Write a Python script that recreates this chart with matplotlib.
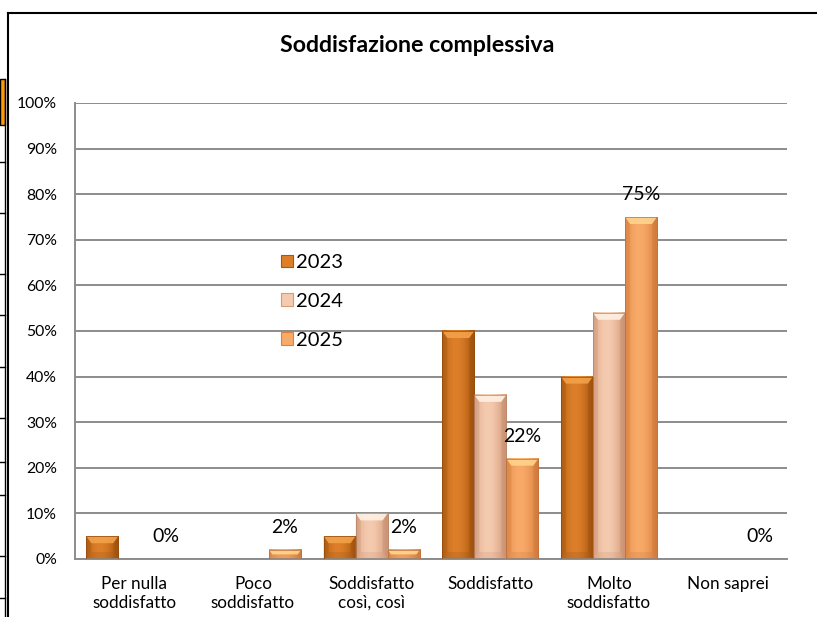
import numpy as np
import matplotlib
matplotlib.use("Agg")
import matplotlib.pyplot as plt
from matplotlib.patches import Polygon, Patch, Rectangle
from matplotlib.lines import Line2D
from matplotlib.colors import to_rgb

plt.rcParams['font.family'] = ['Lato', 'DejaVu Sans']

# --- data ---
categories = ["Per nulla\nsoddisfatto", "Poco\nsoddisfatto", "Soddisfatto\ncosì, così",
              "Soddisfatto", "Molto\nsoddisfatto", "Non saprei"]
years = ["2023", "2024", "2025"]
v2023 = [0.05, 0.0, 0.05, 0.50, 0.40, 0.0]
v2024 = [0.0, 0.0, 0.10, 0.36, 0.54, 0.0]
v2025 = [0.0, 0.02, 0.02, 0.22, 0.75, 0.0]
yticks = [0.0, 0.1, 0.2, 0.3, 0.4, 0.5, 0.6, 0.7, 0.8, 0.9, 1.0]

# colour sets per series: (edge, middle, top bevel, bottom bevel)
palette = {
    "2023": ("#a8570f", "#dd7f2a", "#f2a24a", "#93500f"),
    "2024": ("#d49a7a", "#f5cbb0", "#fff1e4", "#c48d70"),
    "2025": ("#dc8141", "#f8aa68", "#ffd48c", "#c47238"),
}

W, H, DPI = 817, 617, 100
fig = plt.figure(figsize=(W / DPI, H / DPI), dpi=DPI)

# plot area in pixels
px_l, px_r, px_t, px_b = 75, 787, 103, 559
ax = fig.add_axes([px_l / W, 1 - px_b / H, (px_r - px_l) / W, (px_b - px_t) / H])
ax.set_xlim(-0.5, len(categories) - 0.5)
ax.set_ylim(0, 1)

# data units per pixel
ux = (len(categories)) / (px_r - px_l)
uy = 1.0 / (px_b - px_t)


def shade(c, k):
    c = np.array(to_rgb(c))
    return tuple(np.clip(c * k, 0, 1))


def bevel_bar(x0, w, h, cols):
    """Draw one bar with a horizontal gradient and a bevelled rim."""
    if h <= 0:
        return
    edge, mid, top, bot = cols
    e, m = np.array(to_rgb(edge)), np.array(to_rgb(mid))
    t = np.linspace(-1, 1, 64)
    f = 1 - np.abs(t + 0.15) ** 1.8
    f = np.clip(f, 0, 1)
    grad = e[None, :] * (1 - f[:, None]) + m[None, :] * f[:, None]
    ax.imshow(grad[None, :, :], extent=(x0, x0 + w, 0, h), aspect='auto',
              interpolation='bilinear', zorder=2)
    by = min(7 * uy, h / 2)
    bx = 5 * ux * min(1.0, by / (7 * uy))
    x1 = x0 + w
    # top bevel
    ax.add_patch(Polygon([(x0, h), (x1, h), (x1 - bx, h - by), (x0 + bx, h - by)],
                         closed=True, fc=top, ec='none', alpha=0.9, zorder=3))
    # bottom bevel
    ax.add_patch(Polygon([(x0, 0), (x1, 0), (x1 - bx, by), (x0 + bx, by)],
                         closed=True, fc=bot, ec='none', alpha=0.2, zorder=3))
    # side bevels
    ax.add_patch(Polygon([(x0, 0), (x0 + bx, by), (x0 + bx, h - by), (x0, h)],
                         closed=True, fc=shade(edge, 0.95), ec='none', alpha=0.35, zorder=3))
    ax.add_patch(Polygon([(x1, 0), (x1 - bx, by), (x1 - bx, h - by), (x1, h)],
                         closed=True, fc=shade(edge, 0.9), ec='none', alpha=0.35, zorder=3))
    ax.add_patch(Rectangle((x0, 0), w, h, fc='none', ec=shade(edge, 0.85), lw=0.5, zorder=4))


x = np.arange(len(categories))
bw = 0.27
series = [v2023, v2024, v2025]
for i, (yr, vals) in enumerate(zip(years, series)):
    offs = (i - 1) * bw
    bars = ax.bar(x + offs, vals, width=bw, color='none', zorder=1)
    for b in bars:
        bevel_bar(b.get_x(), b.get_width(), b.get_height(), palette[yr])

# value labels on the 2025 series
for xi, v in zip(x, v2025):
    ax.annotate(f"{v * 100:.0f}%", (xi + bw, v), xytext=(0, 16), textcoords='offset points',
                ha='center', va='center', fontsize=14, zorder=5)

# axes styling
ax.set_yticks(yticks)
ax.set_yticklabels([f"{t * 100:.0f}%" for t in yticks], fontsize=11.3)
ax.set_xticks(x)
ax.set_xticklabels(categories, fontsize=12.3, linespacing=1.25)
ax.tick_params(axis='both', length=0)
ax.tick_params(axis='x', pad=12)
ax.tick_params(axis='y', pad=13)
ax.grid(axis='y', color='#8c8c8c', lw=1.4, zorder=0)
ax.set_axisbelow(True)
for s in ['top', 'right']:
    ax.spines[s].set_visible(False)
for s in ['left', 'bottom']:
    ax.spines[s].set_color('#8c8c8c')
    ax.spines[s].set_linewidth(1.4)

# legend inside the plot
handles = [Patch(fc=palette[yr][1], ec=palette[yr][0], lw=0.8) for yr in years]
ax.legend(handles, years, loc='upper left', bbox_to_anchor=(281 / W, 1 - 254 / H),
          bbox_transform=fig.transFigure, frameon=False, fontsize=14.5,
          handlelength=0.6, handleheight=0.6, handletextpad=0.15,
          labelspacing=1.08, borderpad=0, borderaxespad=0)

# title
fig.text(417 / W, 1 - 46 / H, "Soddisfazione complessiva", ha='center', va='center',
         fontsize=16.7, fontweight='bold')

# chart frame and neighbouring sheet cells
fig.add_artist(Line2D([8 / W, 1], [1 - 13 / H, 1 - 13 / H], color='black', lw=1.5))
fig.add_artist(Line2D([8 / W, 8 / W], [1 - 13 / H, 0], color='black', lw=1.5))
fig.add_artist(Rectangle((0, 1 - 125 / H), 5 / W, 46 / H, fc='#ff9900', ec='black', lw=1.0))
fig.add_artist(Line2D([5 / W, 5 / W], [1 - 79 / H, 0], color='black', lw=1.0))
for yy in [162, 213, 274, 315, 367, 418, 462, 495, 556, 598]:
    fig.add_artist(Line2D([0, 5 / W], [1 - yy / H, 1 - yy / H], color='black', lw=1.0))

fig.savefig("out.png", dpi=DPI)
